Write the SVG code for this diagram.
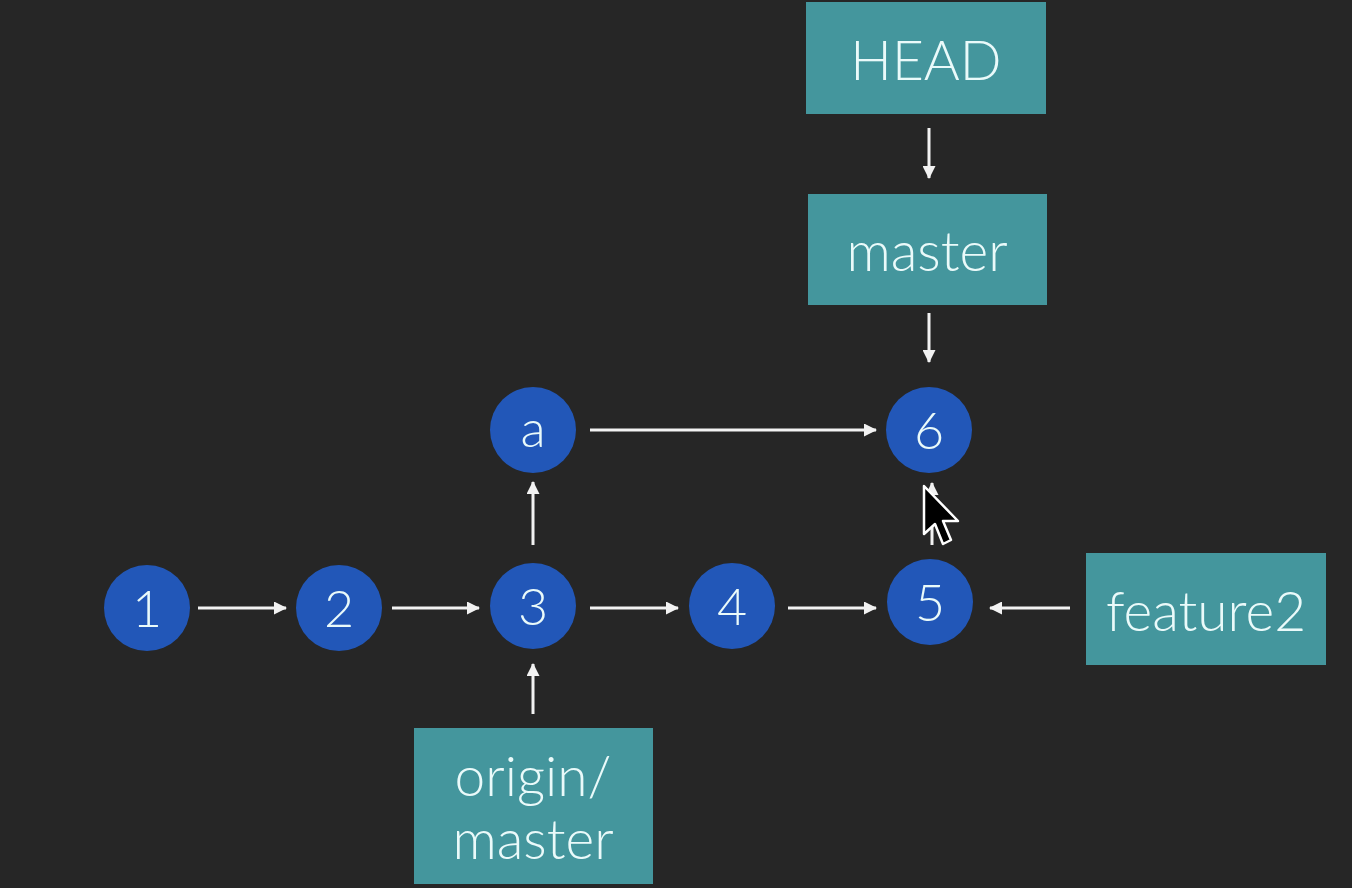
<svg xmlns="http://www.w3.org/2000/svg" width="1352" height="888" viewBox="0 0 1352 888">
<defs>
<marker id="ah" viewBox="0 0 13 13" refX="12" refY="6.5" markerWidth="13" markerHeight="13" markerUnits="userSpaceOnUse" orient="auto">
<path d="M0,0 L13,6.5 L0,13 Z" fill="#f2f2f2"/>
</marker>
</defs>
<style>
.c{fill:#2257b8}
.b{fill:#44969d}
.t{font-family:Lato,"Open Sans","Liberation Sans",sans-serif;font-weight:300;fill:#eafafa;text-anchor:middle}
.ct{font-size:52px}
.bt{font-size:55px}
.e{stroke:#f2f2f2;stroke-width:3;fill:none;marker-end:url(#ah)}
</style>
<rect width="1352" height="888" fill="#262626"/>
<g id="connectors">
<line class="e" x1="198" y1="608" x2="286" y2="608"/>
<line class="e" x1="392" y1="608" x2="479" y2="608"/>
<line class="e" x1="590" y1="608" x2="678" y2="608"/>
<line class="e" x1="788" y1="608" x2="876" y2="608"/>
<line class="e" x1="1070" y1="608" x2="990" y2="608"/>
<line class="e" x1="533" y1="545" x2="533" y2="482"/>
<line class="e" x1="533" y1="714" x2="533" y2="664"/>
<line class="e" x1="929" y1="128" x2="929" y2="178"/>
<line class="e" x1="929" y1="313" x2="929" y2="362"/>
<line class="e" x1="590" y1="430" x2="876" y2="430"/>
<line class="e" x1="932" y1="545" x2="932" y2="483"/>
</g>
<g id="n1"><circle class="c" cx="147" cy="608" r="43"/><text class="t ct" x="147" y="627">1</text></g>
<g id="n2"><circle class="c" cx="339" cy="608" r="43"/><text class="t ct" x="339" y="627">2</text></g>
<g id="n3"><circle class="c" cx="533" cy="606" r="43"/><text class="t ct" x="533" y="625">3</text></g>
<g id="n4"><circle class="c" cx="732" cy="606" r="43"/><text class="t ct" x="732" y="625">4</text></g>
<g id="n5"><circle class="c" cx="930" cy="602" r="43"/><text class="t ct" x="930" y="621">5</text></g>
<g id="n6"><circle class="c" cx="929" cy="430" r="43"/><text class="t ct" x="929" y="449">6</text></g>
<g id="na"><circle class="c" cx="533" cy="430" r="43"/><text class="t ct" x="533" y="447">a</text></g>
<g id="head"><rect class="b" x="806" y="2" width="240" height="112"/><text class="t bt" x="926" y="80">HEAD</text></g>
<g id="master"><rect class="b" x="808" y="194" width="239" height="111"/><text class="t bt" x="927" y="271">master</text></g>
<g id="feature2"><rect class="b" x="1086" y="553" width="240" height="112"/><text class="t bt" x="1206" y="631">feature2</text></g>
<g id="origin"><rect class="b" x="414" y="728" width="239" height="156"/><text class="t bt" x="533" y="796">origin/</text><text class="t bt" x="533" y="859">master</text></g>
<g id="cursor"><path d="M924,486 L924,534 L935,524 L943,544 L951,540 L943,521 L958,521 Z" fill="#000" stroke="#fff" stroke-width="2.5" stroke-linejoin="round"/></g>
</svg>
